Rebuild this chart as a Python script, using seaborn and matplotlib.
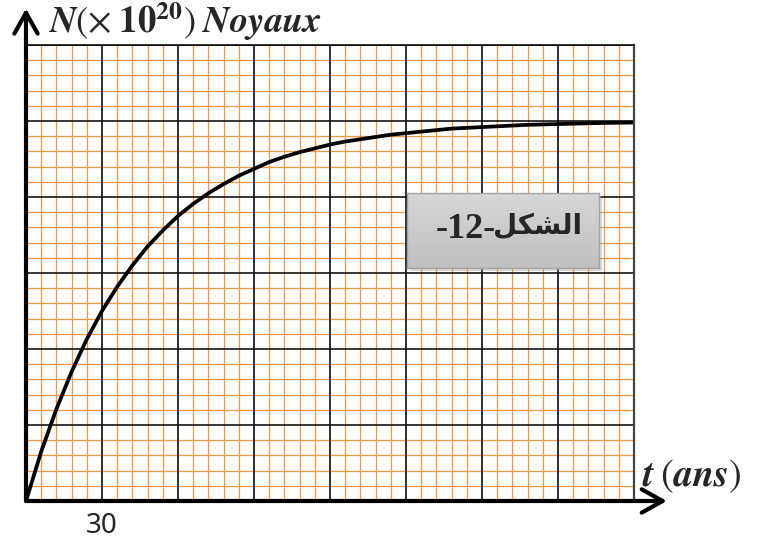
import matplotlib
matplotlib.use("Agg")
import numpy as np
import pandas as pd
import matplotlib.pyplot as plt
from matplotlib.ticker import MultipleLocator
from matplotlib.colors import LinearSegmentedColormap
import seaborn as sns

# Growth of the number of nuclei with time (N in grid units of 10^20, t in years)
t_ans = [0, 6, 12, 18, 24, 30, 36, 42, 48, 54, 60, 66, 72, 78, 84, 90, 96, 102,
         108, 114, 120, 126, 132, 138, 144, 150, 156, 162, 168, 174, 180, 186,
         192, 198, 204, 210, 216, 222, 228, 234, 240]
n_noyaux = [0.00, 0.65, 1.21, 1.70, 2.13, 2.50, 2.82, 3.10, 3.35, 3.56, 3.75,
            3.91, 4.05, 4.17, 4.28, 4.37, 4.46, 4.53, 4.59, 4.64, 4.69, 4.73,
            4.76, 4.79, 4.82, 4.84, 4.86, 4.88, 4.90, 4.91, 4.92, 4.93, 4.94,
            4.95, 4.955, 4.96, 4.965, 4.97, 4.975, 4.977, 4.98]
t_ticks = [0, 30, 60, 90, 120, 150, 180, 210, 240]
t_tick_labels = ["", "30", "", "", "", "", "", "", ""]
n_ticks = [0, 1, 2, 3, 4, 5, 6]

y_label = r"$\mathbfit{N}(\times\;\mathbf{10}^{\mathbf{20}})\;\mathbfit{Noyaux}$"
x_label = r"$\mathbfit{t}\;(\mathbfit{ans})$"
# "الشكل" written with Arabic presentation forms in visual order
# (matplotlib lays text out left to right without shaping)
tag_word = "\uFEDE\uFEDC\uFEB8\uFEDF\uFE8D"
tag_number = "-12-"

df = pd.DataFrame({"t": t_ans, "N": n_noyaux})

sns.set_style("white")
plt.rcParams["mathtext.fontset"] = "stix"
plt.rcParams["font.family"] = ["DejaVu Sans"]

W, H = 759, 540
fig = plt.figure(figsize=(W / 100, H / 100), dpi=100)
pos = [26 / W, 39 / H, 608 / W, 456 / H]

XMAX, YMAX = 240, 6
ORANGE = "#F7963F"

# millimetre paper: fine orange grid underneath
ax_grid = fig.add_axes(pos)
ax_grid.set_xlim(0, XMAX)
ax_grid.set_ylim(0, YMAX)
ax_grid.xaxis.set_major_locator(MultipleLocator(30))
ax_grid.yaxis.set_major_locator(MultipleLocator(1))
ax_grid.xaxis.set_minor_locator(MultipleLocator(6))
ax_grid.yaxis.set_minor_locator(MultipleLocator(0.2))
ax_grid.grid(which="minor", color=ORANGE, lw=0.9)
ax_grid.grid(which="major", visible=False)
ax_grid.set_xticklabels([])
ax_grid.set_yticklabels([])
ax_grid.tick_params(which="both", length=0)
for s in ax_grid.spines.values():
    s.set_visible(False)

# main axes with the coarse black grid and the curve
ax = fig.add_axes(pos)
ax.set_facecolor("none")
sns.lineplot(data=df, x="t", y="N", ax=ax, color="black", lw=2.7,
             estimator=None, sort=False)
ax.set_xlim(0, XMAX)
ax.set_ylim(0, YMAX)
ax.set_xlabel("")
ax.set_ylabel("")
ax.set_xticks(t_ticks, labels=t_tick_labels)
ax.set_yticks(n_ticks, labels=[""] * len(n_ticks))
ax.xaxis.grid(True, which="major", color="#2e2e2e", lw=1.4)
ax.yaxis.grid(True, which="major", color="black", lw=1.1)
ax.tick_params(axis="both", length=0)
ax.tick_params(axis="x", pad=8, labelsize=20)
for lab in ax.get_xticklabels():
    lab.set_fontfamily(["Noto Sans", "DejaVu Sans"])
ax.spines["left"].set_visible(False)
ax.spines["bottom"].set_visible(False)
ax.spines["top"].set_color("black")
ax.spines["top"].set_linewidth(1.1)
ax.spines["right"].set_color("#444444")
ax.spines["right"].set_linewidth(1.6)

# axes drawn as arrows from the origin
arrow = dict(arrowstyle="->,head_length=0.75,head_width=0.42", lw=3,
             color="black", shrinkA=0, shrinkB=0, mutation_scale=20)
ax.annotate("", xy=(0, YMAX * 1.08), xytext=(0, 0), arrowprops=arrow,
            annotation_clip=False)
ax.annotate("", xy=(XMAX * 1.054, 0), xytext=(0, 0), arrowprops=arrow,
            annotation_clip=False)

fig.text(48 / W, 1 - 33 / H, y_label, fontsize=26.5, ha="left", va="baseline")
fig.text(642 / W, 1 - 486 / H, x_label, fontsize=27.5, ha="left", va="baseline")

# figure tag in a grey gradient box with a soft shadow
shadow = plt.Rectangle((410 / W, 269 / H), 192 / W, 75 / H,
                       transform=fig.transFigure, facecolor="#9a9a9a",
                       alpha=0.35, edgecolor="none", zorder=2)
fig.add_artist(shadow)
ax_box = fig.add_axes([407 / W, 272 / H, 192 / W, 75 / H], zorder=3)
grey = LinearSegmentedColormap.from_list("grey", ["#d6d6d6", "#c0c0c0"])
ax_box.imshow(np.linspace(0, 1, 100)[:, None], cmap=grey, aspect="auto",
              extent=[0, 1, 0, 1])
ax_box.set_xticks([])
ax_box.set_yticks([])
for s in ax_box.spines.values():
    s.set_color("#a3a3a3")
    s.set_linewidth(1.0)
ax_box.text(0.465, 0.40, tag_number, transform=ax_box.transAxes, ha="right",
            va="baseline", fontsize=26, fontweight="bold",
            family=["Liberation Serif", "DejaVu Serif"])
ax_box.text(0.91, 0.45, tag_word, transform=ax_box.transAxes, ha="right",
            va="baseline", fontsize=20, fontweight="bold",
            family=["DejaVu Sans"])

fig.savefig("out.png", dpi=100)
